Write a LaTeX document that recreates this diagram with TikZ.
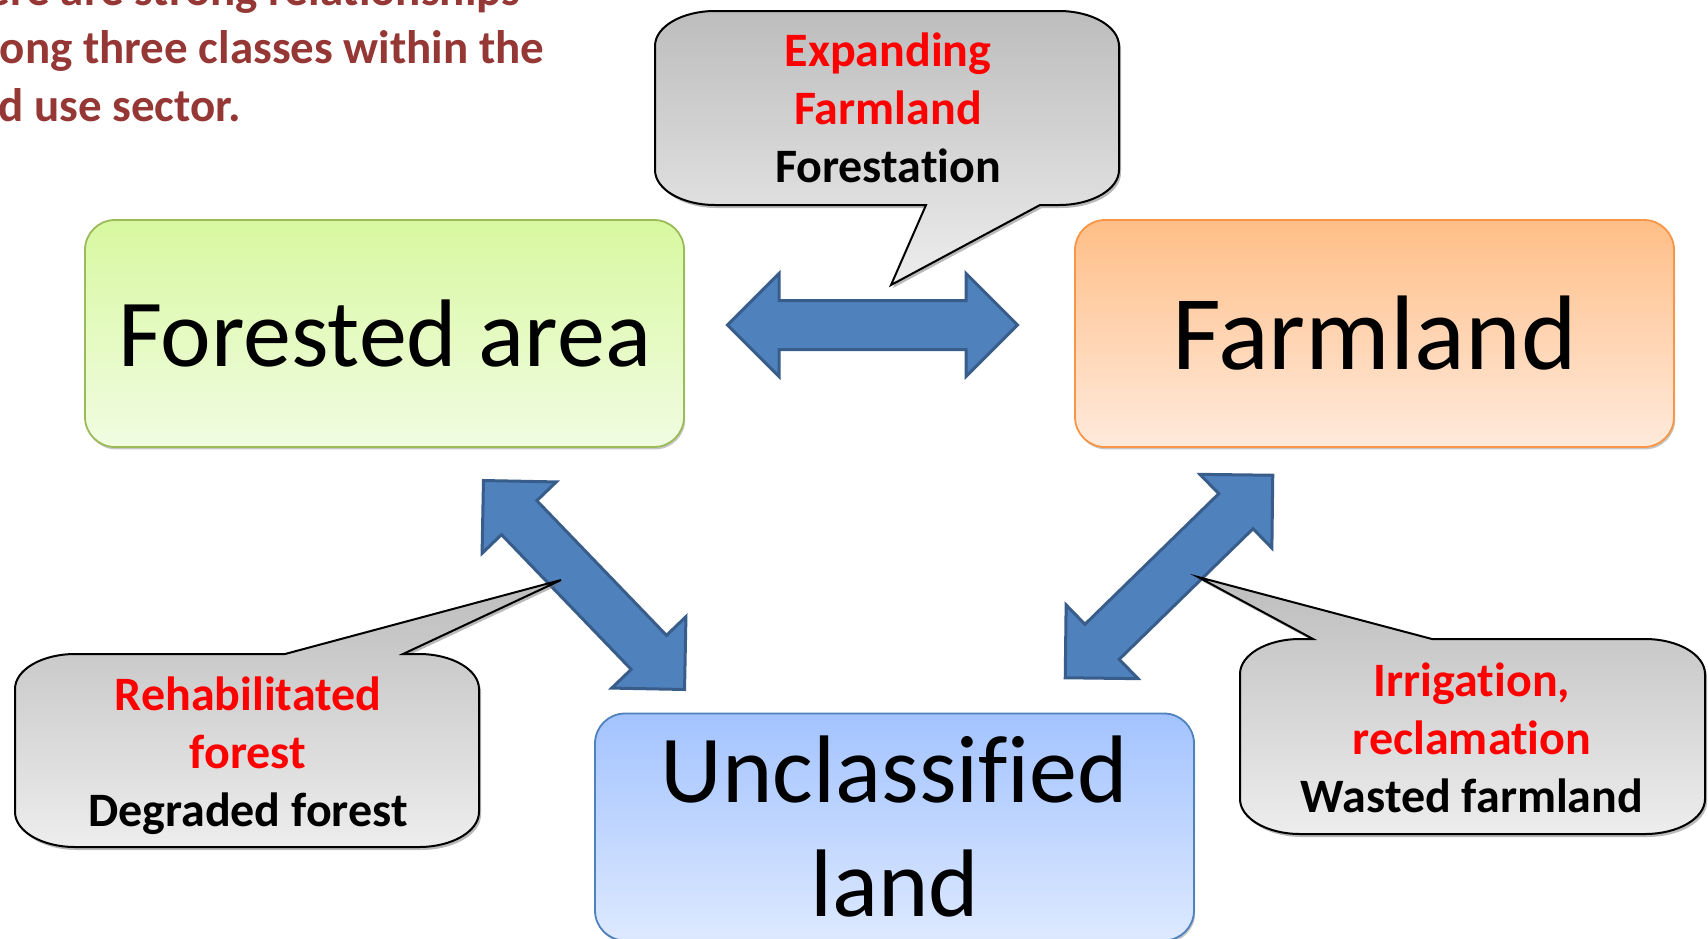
\documentclass[tikz,border=0pt]{standalone}
\usepackage{fontspec}
\setmainfont{Carlito}[Ligatures=NoCommon]
\usetikzlibrary{shapes.arrows,shadows}

\definecolor{titlered}{RGB}{149,55,53}
\definecolor{arrowblue}{RGB}{79,129,189}
\definecolor{arrowedge}{RGB}{56,93,138}
\definecolor{forestedge}{RGB}{155,187,89}
\definecolor{foresttop}{RGB}{216,248,160}
\definecolor{forestbot}{RGB}{241,252,226}
\definecolor{farmedge}{RGB}{247,150,70}
\definecolor{farmtop}{RGB}{255,190,135}
\definecolor{farmbot}{RGB}{255,234,220}
\definecolor{landedge}{RGB}{79,129,189}
\definecolor{landtop}{RGB}{163,195,255}
\definecolor{landbot}{RGB}{221,233,255}

\tikzset{
  landbox/.style={rounded corners=15pt, minimum width=299.5pt, minimum height=113.5pt,
    line width=0.9pt, inner sep=0pt, align=center, font=\fontsize{48}{57}\selectfont,
    drop shadow={shadow xshift=0.6pt, shadow yshift=-1.2pt, fill=black!45}},
  blockarrow/.style={double arrow, double arrow tip angle=90, double arrow head extend=13.5pt,
    minimum width=50pt, minimum height=145pt, inner xsep=0pt, inner ysep=11.5pt,
    fill=arrowblue, draw=arrowedge, line width=1.5pt},
  bubble/.style={draw=black, line width=1pt, top color=black!26, bottom color=black!7,
    drop shadow={shadow xshift=1pt, shadow yshift=-1.5pt, fill=black!55}},
  bubbletext/.style={font=\fontsize{24}{29}\selectfont\bfseries, align=center}
}

\begin{document}
\begin{tikzpicture}[x=0.5pt,y=-0.5pt]
  \clip (0,0) rectangle (1708,938);

  \node[anchor=north west, align=left, text=titlered, font=\fontsize{23.5}{28.85}\selectfont\bfseries, inner sep=0pt]
    (title) at (-62,-27.5) {There are strong relationships\\among three classes within the\\land use sector.};

  \node[landbox, draw=forestedge, top color=foresttop, bottom color=forestbot] (forest) at (384.5,333.5) {Forested area};
  \node[landbox, draw=farmedge, top color=farmtop, bottom color=farmbot, font=\fontsize{53}{63}\selectfont] (farm) at (1374.5,333.5) {Farmland};
  \node[landbox, draw=landedge, top color=landtop, bottom color=landbot] (unclass) at (894.5,827) {Unclassified\\land};

  \node[blockarrow] (ffarrow) at (872.5,325) {};
  \node[blockarrow, rotate=-46.1] (fuarrow) at (584,585) {};
  \node[blockarrow, rotate=44.3] (uaarrow) at (1169,576.5) {};

  % speech bubbles
  \path[bubble] (715,11) -- (1059,11) .. controls (1092.1,11) and (1119,26.7) .. (1119,46)
    -- (1119,170) .. controls (1119,189.3) and (1092.1,205) .. (1059,205)
    -- (1040,205) -- (891,285) -- (926,205)
    -- (715,205) .. controls (681.9,205) and (655,189.3) .. (655,170)
    -- (655,46) .. controls (655,26.7) and (681.9,11) .. (715,11) -- cycle;
  \path[bubble] (75,654) -- (285,654) -- (561,580) -- (403,654)
    -- (419,654) .. controls (452.1,654) and (479,669.7) .. (479,689)
    -- (479,812) .. controls (479,831.3) and (452.1,847) .. (419,847)
    -- (75,847) .. controls (41.9,847) and (15,831.3) .. (15,812)
    -- (15,689) .. controls (15,669.7) and (41.9,654) .. (75,654) -- cycle;
  \path[bubble] (1300,639) -- (1313,639) -- (1198,577) -- (1432,639)
    -- (1645,639) .. controls (1678.1,639) and (1705,654.7) .. (1705,674)
    -- (1705,799) .. controls (1705,818.3) and (1678.1,834) .. (1645,834)
    -- (1300,834) .. controls (1266.9,834) and (1240,818.3) .. (1240,799)
    -- (1240,674) .. controls (1240,654.7) and (1266.9,639) .. (1300,639) -- cycle;

  \node[bubbletext] (expand) at (888,108) {\textcolor{red}{Expanding}\\\textcolor{red}{Farmland}\\Forestation};
  \node[bubbletext] (rehab) at (248,755.5) {\textcolor{red}{Rehabilitated}\\\textcolor{red}{forest}\\Degraded forest};
  \node[bubbletext] (irrig) at (1472,738) {\textcolor{red}{Irrigation,}\\\textcolor{red}{reclamation}\\Wasted farmland};
\end{tikzpicture}
\end{document}
